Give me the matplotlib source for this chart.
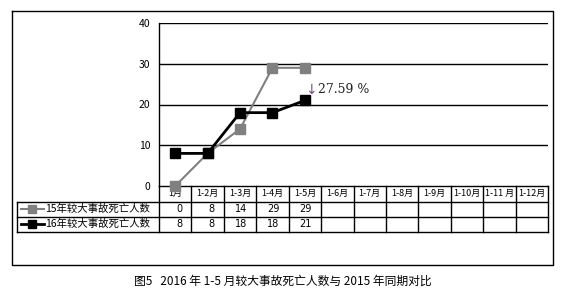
import matplotlib.pyplot as plt

plt.rcParams["font.family"] = ["Noto Sans CJK SC", "DejaVu Sans"]

months = ["1月", "1-2月", "1-3月", "1-4月", "1-5月", "1-6月", "1-7月",
          "1-8月", "1-9月", "1-10月", "1-11 月", "1-12月"]
deaths_2015 = [0, 8, 14, 29, 29]
deaths_2016 = [8, 8, 18, 18, 21]
label_2015 = "15年较大事故死亡人数"
label_2016 = "16年较大事故死亡人数"
change_text = "27.59 %"
caption = "图5   2016 年 1-5 月较大事故死亡人数与 2015 年同期对比"

W, H = 567, 302
fig = plt.figure(figsize=(W / 100, H / 100), dpi=100)

# overlay in pixel coordinates for frame and table
ov = fig.add_axes([0, 0, 1, 1])
ov.set_xlim(0, W)
ov.set_ylim(H, 0)
ov.axis("off")

px_l, px_r, px_t, px_b = 159, 548, 23, 186
ax = fig.add_axes([px_l / W, 1 - px_b / H, (px_r - px_l) / W, (px_b - px_t) / H])
ax.set_xlim(0, 12)
ax.set_ylim(0, 40)
for s in ["top", "right", "bottom"]:
    ax.spines[s].set_visible(False)
ax.spines["left"].set_linewidth(1)
ax.set_yticks([0, 10, 20, 30, 40])
ax.tick_params(axis="y", length=0, labelsize=7.5, pad=6)
ax.set_xticks([])
for y in [10, 20, 30, 40]:
    ax.axhline(y, color="black", lw=1)
ax.patch.set_alpha(0)

xs = [i + 0.5 for i in range(len(deaths_2015))]
ax.plot(xs, deaths_2015, color="#808080", lw=1.5, marker="s", ms=6.5, clip_on=False, zorder=3)
ax.plot(xs, deaths_2016, color="black", lw=2, marker="s", ms=7.2, clip_on=False, zorder=4)

ax.annotate("↓", (xs[4] + 0.0, deaths_2016[4] + 2.6), color="#7a4d8c", fontsize=10,
            ha="left", va="center", family="DejaVu Sans")
ax.annotate(change_text, (xs[4] + 0.42, deaths_2016[4] + 2.6), color="#222222", fontsize=9,
            ha="left", va="center", family="DejaVu Serif")

# outer frame
ov.plot([12, 553, 553, 12, 12], [11, 11, 265, 265, 11], color="black", lw=1)

# table
col_w = (px_r - px_l) / 12
r0, r1, r2, r3 = 186, 201.7, 216.7, 231.7
lc = dict(color="black", lw=1)
ov.plot([px_l, px_r], [r0, r0], **lc)
ov.plot([17, px_r], [r1, r1], **lc)
ov.plot([17, px_r], [r2, r2], **lc)
ov.plot([17, px_r], [r3, r3], **lc)
ov.plot([17, 17], [r1, r3], **lc)
for i in range(13):
    x = px_l + i * col_w
    ov.plot([x, x], [r0, r3], **lc)
for i, m in enumerate(months):
    ov.text(px_l + (i + 0.5) * col_w, (r0 + r1) / 2, m, ha="center", va="center", fontsize=6.5)
for i in range(len(deaths_2015)):
    xr = px_l + (i + 1) * col_w - 9
    ov.text(xr, (r1 + r2) / 2, str(deaths_2015[i]), ha="right", va="center", fontsize=7,
            family="DejaVu Sans")
    ov.text(xr, (r2 + r3) / 2, str(deaths_2016[i]), ha="right", va="center", fontsize=7,
            family="DejaVu Sans")

ov.plot([21, 44], [(r1 + r2) / 2] * 2, color="#808080", lw=1.5)
ov.plot([32], [(r1 + r2) / 2], color="#808080", marker="s", ms=6)
ov.plot([21, 44], [(r2 + r3) / 2] * 2, color="black", lw=2)
ov.plot([32], [(r2 + r3) / 2], color="black", marker="s", ms=6)
ov.text(45, (r1 + r2) / 2, label_2015, ha="left", va="center", fontsize=7.5)
ov.text(45, (r2 + r3) / 2, label_2016, ha="left", va="center", fontsize=7.5)

ov.text(283, 281, caption, ha="center", va="center", fontsize=8.5)

fig.savefig("out.png", dpi=100)
